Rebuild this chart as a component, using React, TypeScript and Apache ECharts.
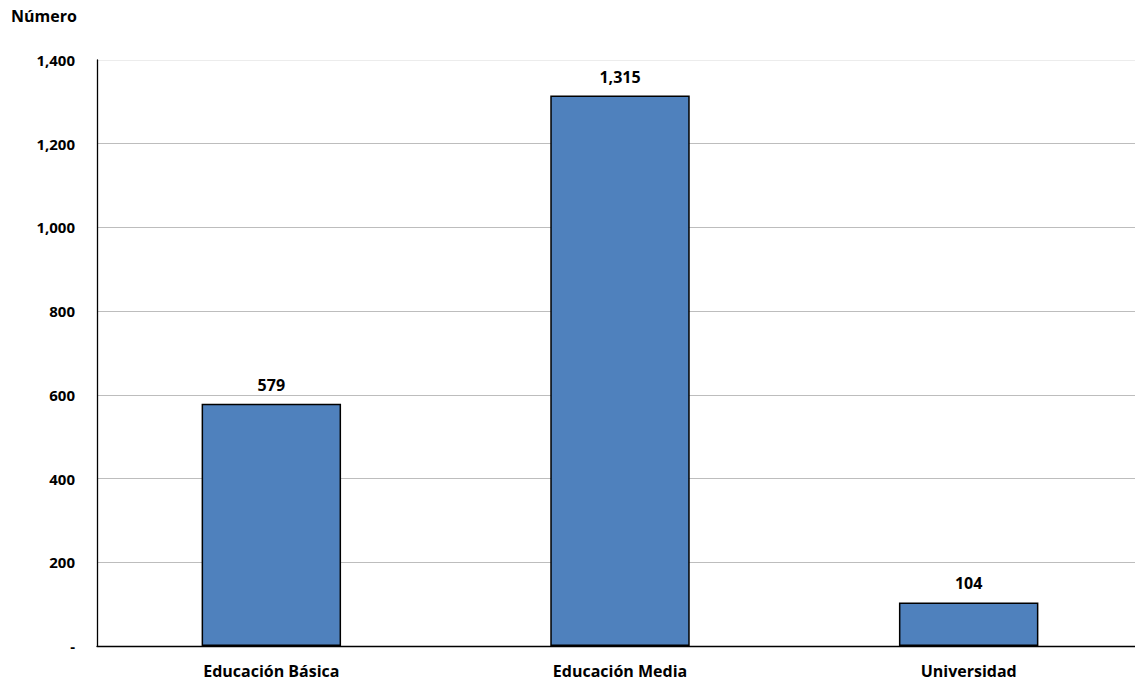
import React, { useEffect, useRef } from "react";
import * as echarts from "echarts";

const categories = ["Educación Básica", "Educación Media", "Universidad"];
const values = [579, 1315, 104];
const yTicks = [0, 200, 400, 600, 800, 1000, 1200, 1400];
const yTitle = "Número";

const FONT = "'Open Sans', 'Noto Sans', sans-serif";

function fmt(v: number): string {
  if (v === 0) return "-";
  return v.toLocaleString("en-US");
}

export default function App() {
  const ref = useRef<HTMLDivElement>(null);
  useEffect(() => {
    if (!ref.current) return;
    const chart = echarts.init(ref.current, undefined, { renderer: "svg" });
    chart.setOption({
      animation: false,
      backgroundColor: "#ffffff",
      graphic: [
        {
          type: "text",
          left: 11,
          top: 8,
          style: {
            text: yTitle,
            font: `bold 16px ${FONT}`,
            fill: "#000",
          },
        },
      ],
      grid: { left: 97, right: 0, top: 60, bottom: 39, containLabel: false },
      xAxis: {
        type: "category",
        data: categories,
        axisLine: { show: true, lineStyle: { color: "#000", width: 1.3 } },
        axisTick: { show: false },
        axisLabel: {
          color: "#000",
          fontFamily: FONT,
          fontWeight: "bold",
          fontSize: 16,
          margin: 17,
        },
      },
      yAxis: {
        type: "value",
        min: yTicks[0],
        max: yTicks[yTicks.length - 1],
        interval: 200,
        axisLine: { show: true, lineStyle: { color: "#000", width: 1.3 } },
        axisTick: { show: false },
        splitLine: {
          show: true,
          lineStyle: {
            color: ["#bdbdbd", "#bdbdbd", "#bdbdbd", "#bdbdbd", "#bdbdbd", "#bdbdbd", "#bdbdbd", "#ececec"],
            width: 1,
          },
        },
        axisLabel: {
          color: "#000",
          fontFamily: FONT,
          fontWeight: "bold",
          fontSize: 15,
          margin: 22,
          formatter: (v: number) => fmt(v),
        },
      },
      series: [
        {
          type: "bar",
          data: values,
          barWidth: "40%",
          itemStyle: { color: "#4F81BD", borderColor: "#000", borderWidth: 1.5 },
          label: {
            show: true,
            position: "top",
            distance: 11,
            color: "#000",
            fontFamily: FONT,
            fontWeight: "bold",
            fontSize: 16,
            formatter: (p: any) => fmt(p.value),
          },
        },
      ],
    });
    return () => chart.dispose();
  }, []);
  return (
    <div
      ref={ref}
      style={{ position: "absolute", left: 0, top: 0, width: 1143, height: 685 }}
    />
  );
}
